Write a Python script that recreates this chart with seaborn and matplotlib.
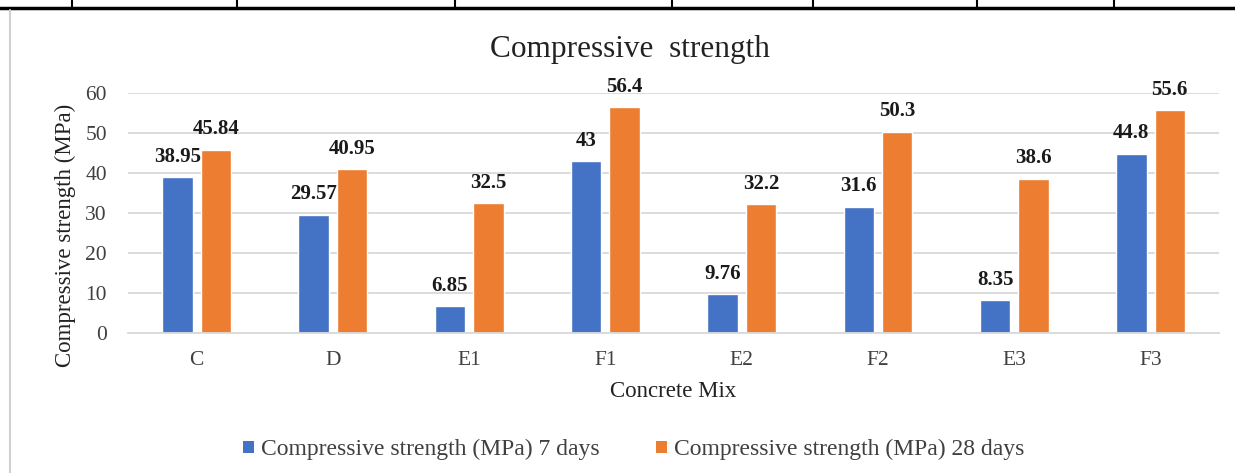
import pandas as pd
import numpy as np
import seaborn as sns
import matplotlib.pyplot as plt
from matplotlib.lines import Line2D
from matplotlib.patches import Patch

# chart data
mixes = ['C', 'D', 'E1', 'F1', 'E2', 'F2', 'E3', 'F3']
days7 = [38.95, 29.57, 6.85, 43, 9.76, 31.6, 8.35, 44.8]
days28 = [45.84, 40.95, 32.5, 56.4, 32.2, 50.3, 38.6, 55.6]
labels7 = ['38.95', '29.57', '6.85', '43', '9.76', '31.6', '8.35', '44.8']
labels28 = ['45.84', '40.95', '32.5', '56.4', '32.2', '50.3', '38.6', '55.6']
series = ['Compressive strength (MPa) 7 days', 'Compressive strength (MPa) 28 days']
colors = ['#4472C4', '#ED7D31']

df = pd.DataFrame({
    'Concrete Mix': mixes * 2,
    'value': days7 + days28,
    'series': [series[0]] * len(mixes) + [series[1]] * len(mixes),
})

sns.set_style('white')
plt.rcParams['font.family'] = ['Liberation Serif', 'DejaVu Serif']

fig = plt.figure(figsize=(12.35, 4.73), dpi=100)
ax = fig.add_axes([0.104, 0.295, 0.8828, 0.509])

sns.barplot(data=df, x='Concrete Mix', y='value', hue='series', hue_order=series,
            palette=colors, width=0.565, gap=0.21, ax=ax, legend=False, saturation=1)

for cont, labs in zip(ax.containers, [labels7, labels28]):
    ax.bar_label(cont, labels=labs, padding=7.5, fontsize=15, fontweight='bold', color='#1a1a1a')

ax.set_ylim(0, 60)
ax.set_yticks(range(0, 61, 10))
ax.yaxis.grid(True, color='#D9D9D9', linewidth=1.3)
ax.set_axisbelow(True)
for s in ['top', 'right', 'left']:
    ax.spines[s].set_visible(False)
ax.spines['bottom'].set_color('#D9D9D9')
ax.spines['bottom'].set_linewidth(1.3)
ax.tick_params(axis='both', length=0, labelsize=15.5, colors='#404040')
ax.tick_params(axis='y', pad=15.5)
ax.tick_params(axis='x', pad=12.5)

ax.set_xlabel('Concrete Mix', fontsize=16.5, color='#222222', labelpad=8)
ax.set_ylabel('Compressive strength (MPa)', fontsize=16.5, color='#222222')
ax.yaxis.set_label_coords(-0.048, 0.409)
ax.set_title('Compressive  strength', fontsize=22.5, color='#222222', pad=26, x=0.46)

handles = [Patch(facecolor=c, edgecolor='none') for c in colors]
fig.legend(handles, series, loc='center', bbox_to_anchor=(0.513, 0.049), ncol=2,
           frameon=False, fontsize=17, handlelength=0.45, handleheight=0.45,
           handletextpad=0.3, columnspacing=2.4, labelcolor='#404040')

# page / table remnants around the chart
fig.add_artist(Line2D([0, 1], [1 - 8 / 473, 1 - 8 / 473], color='black', linewidth=2.5))
for xv in [72, 237, 455, 672, 813, 977, 1114]:
    fig.add_artist(Line2D([xv / 1235, xv / 1235], [1 - 8 / 473, 1], color='black', linewidth=1.5))
fig.add_artist(Line2D([10 / 1235, 10 / 1235], [0, 1 - 10 / 473], color='#D0D0D0', linewidth=1.5))

fig.savefig('out.png', dpi=100)
